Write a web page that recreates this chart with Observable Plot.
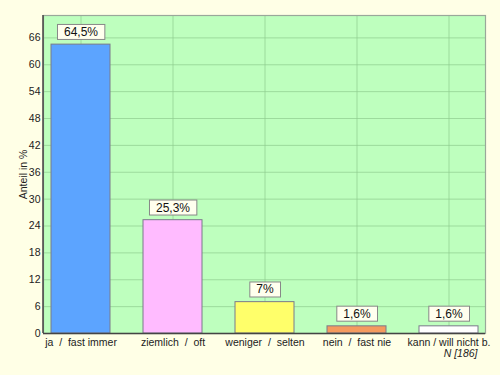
<!DOCTYPE html>
<html><head><meta charset="utf-8">
<script src="https://cdn.jsdelivr.net/npm/d3@7"></script>
<script src="https://cdn.jsdelivr.net/npm/@observablehq/plot@0.6"></script>
<style>
html,body{margin:0;padding:0;background:#FFFFE6;}
svg text{white-space:pre;}
</style>
</head><body><div id="chart"></div>
<script>
const categories = ["ja  /  fast immer", "ziemlich  /  oft", "weniger  /  selten", "nein  /  fast nie", "kann / will nicht b."];
const values = [64.5, 25.3, 7, 1.6, 1.6];
const valueLabels = ["64,5%", "25,3%", "7%", "1,6%", "1,6%"];
const colors = ["#5CA4FF", "#FFBBFF", "#FFFF6A", "#F59A5E", "#FFFFFF"];
const yTicks = [0, 6, 12, 18, 24, 30, 36, 42, 48, 54, 60, 66];
const nLabel = "N [186]";

const data = categories.map((c, i) => ({cat: c, v: values[i], label: valueLabels[i], color: colors[i]}));

const plot = Plot.plot({
  width: 500, height: 375,
  marginLeft: 43, marginRight: 15, marginTop: 15, marginBottom: 42,
  style: {background: "#FFFFE6", fontFamily: "Liberation Sans, Arial, sans-serif", fontSize: "10px", color: "#222"},
  x: {domain: categories, range: [43, 485], paddingInner: 0.36, paddingOuter: 0.08, align: 0.5},
  y: {domain: [0, 71], range: [333, 15]},
  marks: [
    Plot.frame({fill: "#BEFFBE", stroke: "none"}),
    Plot.gridY(yTicks, {stroke: "#8ECC8E", strokeOpacity: 0.7}),
    Plot.gridX({stroke: "#8ECC8E", strokeOpacity: 0.7}),
    Plot.frame({stroke: "#9AA89A", strokeWidth: 1.2}),
    Plot.barY(data, {x: "cat", y: "v", fill: "color", stroke: "#7A7A8A", strokeWidth: 1}),
    Plot.ruleY([0], {stroke: "#444", strokeWidth: 1.5}),
    Plot.axisY({ticks: yTicks, tickSize: 0, tickPadding: 3, label: "Anteil in %", labelAnchor: "center", labelArrow: "none", labelOffset: 24, fontSize: 10.5}),
    Plot.axisX({tickSize: 0, tickPadding: 5, label: null, fontSize: 10.5}),
    Plot.text(data, {x: "cat", y: "v", text: "label", dy: -12.5, lineAnchor: "middle", fontSize: 12, fill: "#111", className: "vlabel"}),
    Plot.text([nLabel], {frameAnchor: "bottom-right", text: d => d, dy: 20, dx: -8, fontStyle: "italic", fontSize: 10.5, textAnchor: "end", lineAnchor: "middle"})
  ]
});
document.getElementById("chart").appendChild(plot);

const svg = d3.select(plot);
// value label boxes
svg.selectAll("g.vlabel text").each(function() {
  const b = this.getBBox();
  const g = this.parentNode;
  const r = document.createElementNS("http://www.w3.org/2000/svg", "rect");
  const t = this.getAttribute("transform");
  r.setAttribute("x", b.x - 6.5);
  r.setAttribute("y", b.y - 0.5);
  r.setAttribute("width", b.width + 13);
  r.setAttribute("height", b.height + 1);
  r.setAttribute("fill", "#FFFFEE");
  r.setAttribute("stroke", "#888");
  r.setAttribute("stroke-width", "1");
  if (t) r.setAttribute("transform", t);
  g.insertBefore(r, this);
});
// y-axis line along left edge of frame
const ax = document.createElementNS("http://www.w3.org/2000/svg", "line");
ax.setAttribute("x1", 43); ax.setAttribute("x2", 43); ax.setAttribute("y1", 15); ax.setAttribute("y2", 333);
ax.setAttribute("stroke", "#444"); ax.setAttribute("stroke-width", 1.5);
plot.appendChild(ax);
</script>
</body></html>
